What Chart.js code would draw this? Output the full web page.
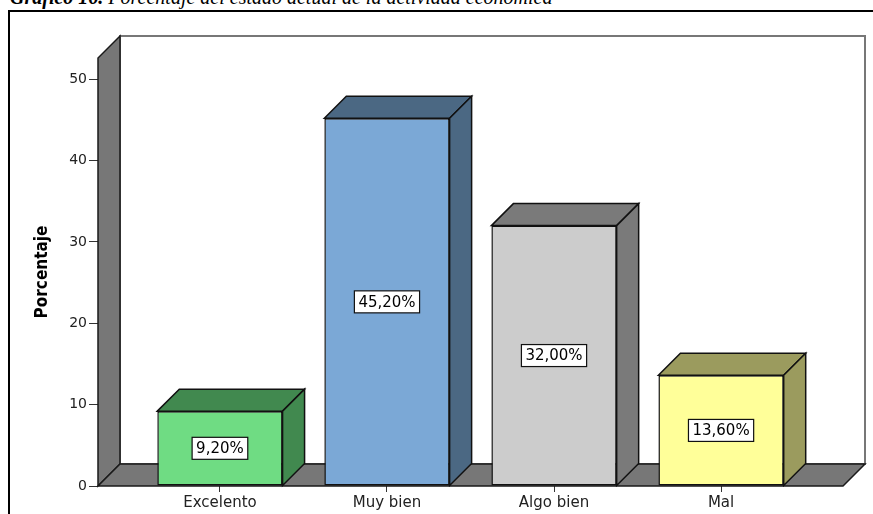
<!DOCTYPE html>
<html lang="es">
<head>
    <meta charset="UTF-8">
    <title>Gráfico 16</title>
    <script src="https://cdn.jsdelivr.net/npm/chart.js"></script>
    <style>
        body { margin: 0; background: #fff; overflow: hidden; }
        .wrap { position: relative; width: 873px; height: 514px; }
        .caption { position: absolute; left: 10px; top: -13px; font: italic 20px 'Liberation Serif', serif; line-height: 20px; white-space: nowrap; }
        .frame { position: absolute; left: 8px; top: 10px; width: 880px; height: 520px; border-left: 2px solid #000; border-top: 2px solid #000; }
        canvas { position: absolute; left: 0; top: 0; }
    </style>
</head>
<body>
<div class="wrap">
    <div class="caption"><b>Gráfico 16.</b> Porcentaje del estado actual de la actividad económica</div>
    <div class="frame"></div>
    <canvas id="chart" width="873" height="514"></canvas>
</div>
<script>
const categories = ['Excelento', 'Muy bien', 'Algo bien', 'Mal'];
const values = [9.2, 45.2, 32.0, 13.6];
const yTicks = [0, 10, 20, 30, 40, 50];
const frontColors = ['#6fdc83', '#7ba8d6', '#cccccc', '#ffff99'];
const sideColors = ['#41894f', '#4b6883', '#7a7a7a', '#9b9b5e'];

const DX = 22, DY = -22;   // profundidad del efecto 3D

function poly(ctx, pts, fill, stroke) {
    ctx.beginPath();
    ctx.moveTo(pts[0][0], pts[0][1]);
    pts.slice(1).forEach(p => ctx.lineTo(p[0], p[1]));
    ctx.closePath();
    ctx.fillStyle = fill;
    ctx.fill();
    ctx.strokeStyle = stroke;
    ctx.lineWidth = 1.5;
    ctx.stroke();
}

const box3d = {
    id: 'box3d',
    beforeDatasetsDraw(chart) {
        const { ctx, chartArea: a } = chart;
        ctx.save();
        // pared del fondo
        ctx.fillStyle = '#fff';
        ctx.fillRect(a.left + DX, a.top + DY, a.right - a.left, a.bottom - a.top);
        ctx.strokeStyle = '#777';
        ctx.lineWidth = 2;
        ctx.strokeRect(a.left + DX, a.top + DY, a.right - a.left, a.bottom - a.top);
        // pared izquierda
        poly(ctx, [[a.left, a.bottom], [a.left, a.top], [a.left + DX, a.top + DY], [a.left + DX, a.bottom + DY]], '#777', '#1a1a1a');
        // suelo
        poly(ctx, [[a.left, a.bottom], [a.left + DX, a.bottom + DY], [a.right + DX, a.bottom + DY], [a.right, a.bottom]], '#777', '#1a1a1a');
        ctx.restore();
    },
    afterDatasetsDraw(chart) {
        const { ctx } = chart;
        const meta = chart.getDatasetMeta(0);
        ctx.save();
        meta.data.forEach((bar, i) => {
            const l = bar.x - bar.width / 2, r = bar.x + bar.width / 2;
            const t = bar.y, b = bar.base;
            poly(ctx, [[l, t], [l + DX, t + DY], [r + DX, t + DY], [r, t]], sideColors[i], '#111');
            poly(ctx, [[r, t], [r + DX, t + DY], [r + DX, b + DY], [r, b]], sideColors[i], '#111');
            // etiqueta del valor
            const txt = values[i].toFixed(2).replace('.', ',') + '%';
            ctx.font = '15px "DejaVu Sans"';
            const w = ctx.measureText(txt).width + 8, h = 22;
            const cy = (t + b) / 2;
            ctx.fillStyle = '#fff';
            ctx.fillRect(bar.x - w / 2, cy - h / 2, w, h);
            ctx.strokeStyle = '#111';
            ctx.lineWidth = 1.2;
            ctx.strokeRect(bar.x - w / 2, cy - h / 2, w, h);
            ctx.fillStyle = '#000';
            ctx.textAlign = 'center';
            ctx.textBaseline = 'middle';
            ctx.fillText(txt, bar.x, cy + 1);
        });
        ctx.restore();
    }
};

new Chart(document.getElementById('chart'), {
    type: 'bar',
    data: {
        datasets: [{
            data: values.map((v, i) => ({ x: i, y: v })),
            backgroundColor: frontColors,
            borderColor: '#111',
            borderWidth: 1.5,
            borderSkipped: false,
            barPercentage: 0.75,
            categoryPercentage: 1
        }]
    },
    options: {
        responsive: false,
        animation: false,
        events: [],
        layout: { padding: { top: 58, right: 30, bottom: 0, left: 0 } },
        plugins: { legend: { display: false }, tooltip: { enabled: false } },
        scales: {
            x: {
                type: 'linear',
                offset: false,
                min: -0.73,
                max: 3.73,
                afterBuildTicks: s => { s.ticks = categories.map((c, i) => ({ value: i })); },
                afterFit: s => { s.height = 28; },
                grid: { drawOnChartArea: false, offset: false, tickLength: 6, color: '#333' },
                border: { display: false },
                ticks: { callback: v => categories[v], autoSkip: false, maxRotation: 0, padding: 2, color: '#222', font: { family: 'DejaVu Sans', size: 15 } }
            },
            y: {
                min: 0,
                max: 52.6,
                afterBuildTicks: s => { s.ticks = yTicks.map(v => ({ value: v })); },
                afterFit: s => { s.width = 98; },
                grid: { drawOnChartArea: false, tickLength: 9, color: '#333' },
                border: { display: false },
                ticks: { padding: 2, color: '#222', font: { family: 'DejaVu Sans', size: 14 } },
                title: {
                    display: true,
                    text: 'Porcentaje',
                    color: '#000',
                    font: { family: "'DejaVu Sans Condensed', sans-serif", size: 17, weight: 'bold' },
                    padding: { top: 32, bottom: 0 }
                }
            }
        }
    },
    plugins: [box3d]
});
</script>
</body>
</html>
